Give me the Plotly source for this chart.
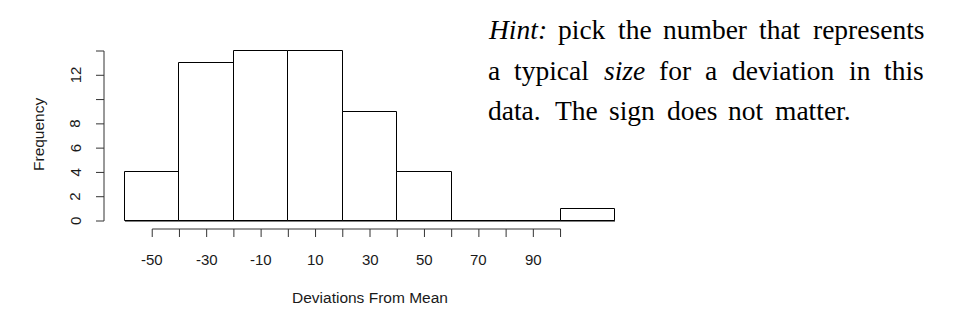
import plotly.graph_objects as go

# ---- data ----
bin_edges = [-60, -40, -20, 0, 20, 40, 60, 80, 100, 120]
counts = [4, 13, 14, 14, 9, 4, 0, 0, 1]
x_ticks = [-50, -40, -30, -20, -10, 0, 10, 20, 30, 40, 50, 60, 70, 80, 90, 100]
x_tick_labels = ["-50", "-30", "-10", "10", "30", "50", "70", "90"]
x_label_vals = [-50, -30, -10, 10, 30, 50, 70, 90]
y_ticks = [0, 2, 4, 6, 8, 10, 12, 14]
y_label_vals = [0, 2, 4, 6, 8, 12]
x_title = "Deviations From Mean"
y_title = "Frequency"
# (word, italic) per line of the hint paragraph
hint_lines = [
    [("Hint:", True), ("pick", False), ("the", False), ("number", False), ("that", False),
     ("represents", False)],
    [("a", False), ("typical", False), ("size", True), ("for", False), ("a", False),
     ("deviation", False), ("in", False), ("this", False)],
    [("data.", False), ("The", False), ("sign", False), ("does", False), ("not", False),
     ("matter.", False)],
]

W, H = 978, 328
px_per_x = (615 - 125) / 180.0
x0_px = 125
y0_px = 221
px_per_y = (221 - 51) / 14.0
xr = [-60 - x0_px / px_per_x, -60 + (W - x0_px) / px_per_x]
yr = [-(H - y0_px) / px_per_y, y0_px / px_per_y]


def py(p):
    return 1 - p / H


def px(p):
    return p / W


centers = [(a + b) / 2 for a, b in zip(bin_edges[:-1], bin_edges[1:])]
widths = [b - a for a, b in zip(bin_edges[:-1], bin_edges[1:])]

fig = go.Figure()
fig.add_trace(go.Bar(
    x=centers, y=counts, width=widths,
    marker=dict(color="white", line=dict(color="black", width=1)),
    showlegend=False, hoverinfo="skip",
))

shapes = []
axis_col = "#333333"
shapes.append(dict(type="line", xref="x", yref="y", x0=bin_edges[0], x1=bin_edges[-1],
                   y0=0, y1=0, line=dict(color="black", width=1)))
xa_y = py(229)
xt_y = py(237)
shapes.append(dict(type="line", xref="x", yref="paper", x0=x_ticks[0], x1=x_ticks[-1],
                   y0=xa_y, y1=xa_y, line=dict(color=axis_col, width=1)))
for t in x_ticks:
    shapes.append(dict(type="line", xref="x", yref="paper", x0=t, x1=t,
                       y0=xa_y, y1=xt_y, line=dict(color=axis_col, width=1)))
ya_x = px(104)
yt_x = px(96)
shapes.append(dict(type="line", xref="paper", yref="y", x0=ya_x, x1=ya_x,
                   y0=y_ticks[0], y1=y_ticks[-1], line=dict(color=axis_col, width=1)))
for t in y_ticks:
    shapes.append(dict(type="line", xref="paper", yref="y", x0=ya_x, x1=yt_x,
                       y0=t, y1=t, line=dict(color=axis_col, width=1)))

ann = []
lab_font = dict(family="Liberation Sans, Arial, sans-serif", size=15, color="#1a1a1a")
for v, lab in zip(x_label_vals, x_tick_labels):
    ann.append(dict(xref="x", yref="paper", x=v, y=py(259), text=lab, showarrow=False,
                    xanchor="center", yanchor="middle", font=lab_font))
for v in y_label_vals:
    ann.append(dict(xref="paper", yref="y", x=px(75), y=v, text=str(v), showarrow=False,
                    xanchor="center", yanchor="middle", textangle=-90, font=lab_font))
title_font = dict(family="Liberation Sans, Arial, sans-serif", size=15.5, color="#1a1a1a")
ann.append(dict(xref="paper", yref="paper", x=px(370), y=py(297), text=x_title, showarrow=False,
                xanchor="center", yanchor="middle", font=title_font))
ann.append(dict(xref="paper", yref="paper", x=px(38), y=py(135), text=y_title, showarrow=False,
                xanchor="center", yanchor="middle", textangle=-90, font=title_font))

# ---- justified hint paragraph (Times-compatible glyph advances, em) ----
ROMAN = dict(a=.444, b=.5, c=.444, d=.5, e=.444, f=.333, g=.5, h=.5, i=.278, k=.5, l=.278,
             m=.778, n=.5, o=.5, p=.5, r=.333, s=.389, t=.278, u=.5, v=.5, y=.5, T=.611)
ROMAN["."] = .25
ROMAN[":"] = .278
ITAL = dict(H=.722, i=.278, n=.5, t=.278, s=.389, z=.389, e=.444)
ITAL[":"] = .333
fs = 27.5
left_px = 487
line_right = [923, 923, 851]
line_y = [30, 71, 110]
hint_font = dict(family="Liberation Serif, Times New Roman, serif", size=fs, color="black")


def wwidth(word, ital):
    tab = ITAL if ital else ROMAN
    return sum(tab.get(ch, .5) for ch in word) * fs


for words, right, yy in zip(hint_lines, line_right, line_y):
    ws = [wwidth(w, it) for w, it in words]
    gw = [1.3 if words[k][0].endswith(".") else 1.0 for k in range(len(words) - 1)]
    gap = (right - left_px - sum(ws)) / sum(gw)
    x = left_px
    for k, ((w, it), wd) in enumerate(zip(words, ws)):
        txt = "<i>%s</i>" % w if it else w
        ann.append(dict(xref="paper", yref="paper", x=px(x), y=py(yy), text=txt,
                        showarrow=False, xanchor="left", yanchor="middle", font=hint_font,
                        borderpad=0))
        if k < len(gw):
            x += wd + gap * gw[k]

fig.update_layout(
    width=W, height=H,
    margin=dict(l=0, r=0, t=0, b=0),
    paper_bgcolor="white", plot_bgcolor="white",
    xaxis=dict(range=xr, visible=False, domain=[0, 1]),
    yaxis=dict(range=yr, visible=False, domain=[0, 1]),
    shapes=shapes, annotations=ann, bargap=0,
)
fig.write_html("out.html")
